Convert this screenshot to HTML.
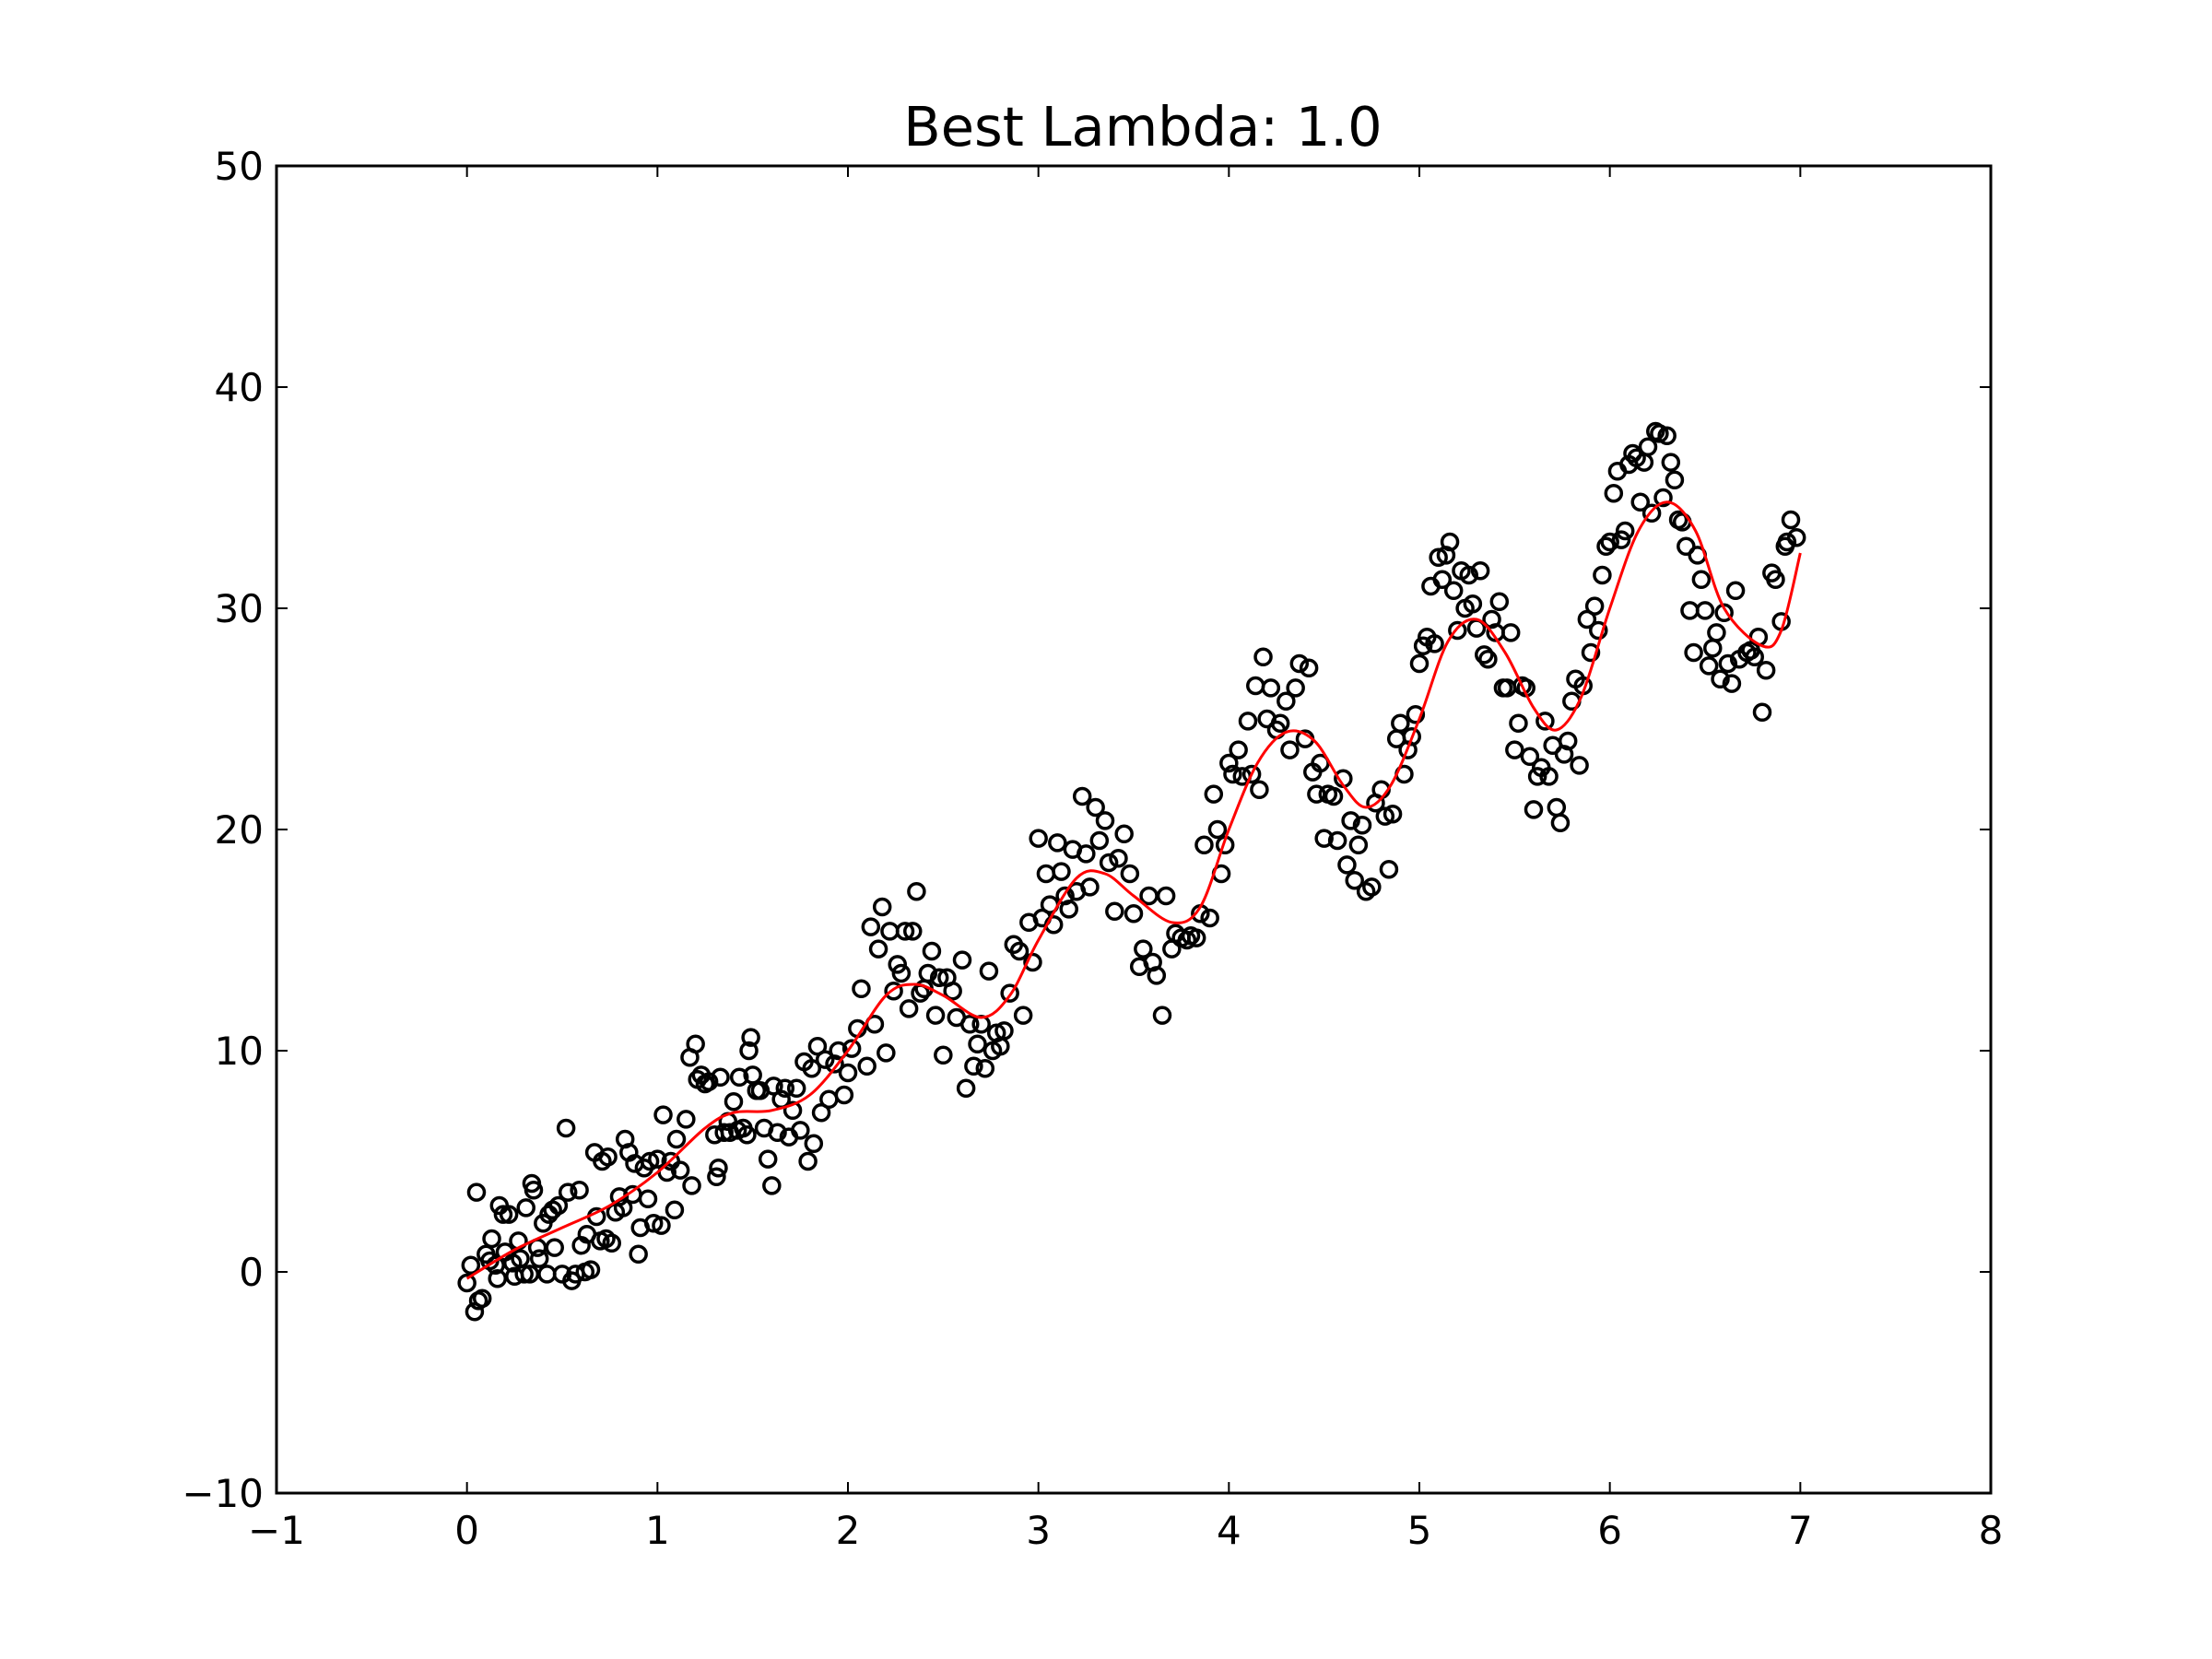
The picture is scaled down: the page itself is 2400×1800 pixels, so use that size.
<!DOCTYPE html>
<html><head><meta charset="utf-8"><style>
html,body{margin:0;padding:0;background:#fff;}
svg{display:block;font-family:"DejaVu Sans","Liberation Sans",sans-serif;}
</style></head><body>
<svg id="chart" width="2400" height="1800" viewBox="0 0 2400 1800" xmlns="http://www.w3.org/2000/svg">
<rect width="2400" height="1800" fill="#fff"/>
<text x="1240" y="158" font-size="59" text-anchor="middle">Best Lambda: 1.0</text>
<g id="marks"></g>
<g id="axes"></g>
</svg>
<script>
const xTicks=[-1,0,1,2,3,4,5,6,7,8];
const yTicks=[-10,0,10,20,30,40,50];
const tickLabelsX=["\u22121","0","1","2","3","4","5","6","7","8"];
const tickLabelsY=["\u221210","0","10","20","30","40","50"];
const pts=[[0,-0.5],[0.02,0.3],[0.04,-1.8],[0.05,3.6],[0.06,-1.3],[0.08,-1.2],[0.1,0.8],[0.12,0.5],[0.13,1.5],[0.15,0.3],[0.16,-0.3],[0.17,3],[0.19,2.6],[0.2,0.9],[0.22,2.6],[0.24,0.4],[0.25,-0.2],[0.27,1.4],[0.28,0.6],[0.3,-0.1],[0.31,2.9],[0.33,-0.1],[0.34,4],[0.35,3.7],[0.37,1.1],[0.38,0.6],[0.4,2.2],[0.42,-0.1],[0.43,2.6],[0.45,2.8],[0.46,1.1],[0.48,3],[0.5,-0.1],[0.52,6.5],[0.53,3.6],[0.55,-0.4],[0.57,-0.1],[0.59,3.7],[0.6,1.2],[0.62,0],[0.63,1.7],[0.65,0.1],[0.67,5.4],[0.68,2.5],[0.7,1.4],[0.71,5],[0.73,1.5],[0.74,5.2],[0.76,1.3],[0.78,2.7],[0.8,3.4],[0.82,2.9],[0.83,6],[0.85,5.4],[0.87,3.5],[0.88,4.9],[0.9,0.8],[0.91,2],[0.93,4.7],[0.95,3.3],[0.96,5],[0.98,2.2],[1.0,5.1],[1.02,2.1],[1.03,7.1],[1.05,4.5],[1.07,5],[1.09,2.8],[1.1,6],[1.12,4.6],[1.15,6.9],[1.17,9.7],[1.18,3.9],[1.2,10.3],[1.21,8.7],[1.23,8.9],[1.25,8.5],[1.27,8.6],[1.3,6.2],[1.31,4.3],[1.32,4.7],[1.33,8.8],[1.35,6.3],[1.37,6.8],[1.38,6.3],[1.4,7.7],[1.42,6.4],[1.43,8.8],[1.45,6.5],[1.47,6.2],[1.48,10],[1.49,10.6],[1.5,8.9],[1.52,8.2],[1.54,8.2],[1.56,6.5],[1.58,5.1],[1.6,3.9],[1.61,8.4],[1.63,6.3],[1.65,7.8],[1.67,8.3],[1.69,6.1],[1.71,7.3],[1.73,8.3],[1.75,6.4],[1.77,9.5],[1.79,5],[1.81,9.2],[1.82,5.8],[1.84,10.2],[1.86,7.2],[1.88,9.6],[1.9,7.8],[1.93,9.4],[1.95,10],[1.98,8],[2.0,9],[2.02,10.1],[2.05,11],[2.07,12.8],[2.1,9.3],[2.12,15.6],[2.14,11.2],[2.16,14.6],[2.18,16.5],[2.2,9.9],[2.22,15.4],[2.24,12.7],[2.26,13.9],[2.28,13.5],[2.3,15.4],[2.32,11.9],[2.34,15.4],[2.36,17.2],[2.38,12.6],[2.4,12.8],[2.42,13.5],[2.44,14.5],[2.46,11.6],[2.48,13.3],[2.5,9.8],[2.52,13.3],[2.55,12.7],[2.57,11.5],[2.6,14.1],[2.62,8.3],[2.64,11.2],[2.66,9.3],[2.68,10.3],[2.7,11.2],[2.72,9.2],[2.74,13.6],[2.76,10],[2.78,10.8],[2.8,10.2],[2.82,10.9],[2.85,12.6],[2.87,14.8],[2.9,14.5],[2.92,11.6],[2.95,15.8],[2.97,14],[3.0,19.6],[3.02,16],[3.04,18],[3.06,16.6],[3.08,15.7],[3.1,19.4],[3.12,18.1],[3.14,17],[3.16,16.4],[3.18,19.1],[3.2,17.2],[3.23,21.5],[3.25,18.9],[3.27,17.4],[3.3,21],[3.32,19.5],[3.35,20.4],[3.37,18.5],[3.4,16.3],[3.42,18.7],[3.45,19.8],[3.48,18],[3.5,16.2],[3.53,13.8],[3.55,14.6],[3.58,17],[3.6,14],[3.62,13.4],[3.65,11.6],[3.67,17],[3.7,14.6],[3.72,15.3],[3.75,15.1],[3.78,15],[3.8,15.2],[3.83,15.1],[3.85,16.2],[3.87,19.3],[3.9,16],[3.92,21.6],[3.94,20],[3.96,18],[3.98,19.3],[4.0,23],[4.02,22.5],[4.05,23.6],[4.07,22.4],[4.1,24.9],[4.12,22.5],[4.14,26.5],[4.16,21.8],[4.18,27.8],[4.2,25],[4.22,26.4],[4.25,24.5],[4.27,24.8],[4.3,25.8],[4.32,23.6],[4.35,26.4],[4.37,27.5],[4.4,24.1],[4.42,27.3],[4.44,22.6],[4.46,21.6],[4.48,23],[4.5,19.6],[4.52,21.6],[4.55,21.5],[4.57,19.5],[4.6,22.3],[4.62,18.4],[4.64,20.4],[4.66,17.7],[4.68,19.3],[4.7,20.2],[4.72,17.2],[4.75,17.4],[4.77,21.2],[4.8,21.8],[4.82,20.6],[4.84,18.2],[4.86,20.7],[4.88,24.1],[4.9,24.8],[4.92,22.5],[4.94,23.6],[4.96,24.2],[4.98,25.2],[5.0,27.5],[5.02,28.3],[5.04,28.7],[5.06,31],[5.08,28.4],[5.1,32.3],[5.12,31.3],[5.14,32.4],[5.16,33],[5.18,30.8],[5.2,29],[5.22,31.7],[5.24,30],[5.26,31.5],[5.28,30.2],[5.3,29.1],[5.32,31.7],[5.34,27.9],[5.36,27.7],[5.38,29.5],[5.4,28.9],[5.42,30.3],[5.44,26.4],[5.46,26.4],[5.48,28.9],[5.5,23.6],[5.52,24.8],[5.54,26.5],[5.56,26.4],[5.58,23.3],[5.6,20.9],[5.62,22.4],[5.64,22.8],[5.66,24.9],[5.68,22.4],[5.7,23.8],[5.72,21],[5.74,20.3],[5.76,23.4],[5.78,24],[5.8,25.8],[5.82,26.8],[5.84,22.9],[5.86,26.5],[5.88,29.5],[5.9,28],[5.92,30.1],[5.94,29],[5.96,31.5],[5.98,32.8],[6.0,33],[6.02,35.2],[6.04,36.2],[6.06,33.1],[6.08,33.5],[6.1,36.5],[6.12,37],[6.14,36.8],[6.16,34.8],[6.18,36.6],[6.2,37.3],[6.22,34.3],[6.24,38],[6.26,37.9],[6.28,35],[6.3,37.8],[6.32,36.6],[6.34,35.8],[6.36,34],[6.38,33.9],[6.4,32.8],[6.42,29.9],[6.44,28],[6.46,32.4],[6.48,31.3],[6.5,29.9],[6.52,27.4],[6.54,28.2],[6.56,28.9],[6.58,26.8],[6.6,29.8],[6.62,27.5],[6.64,26.6],[6.66,30.8],[6.68,27.7],[6.8,25.3],[6.72,28],[6.74,28.1],[6.76,27.8],[6.78,28.7],[6.85,31.6],[6.82,27.2],[6.87,31.3],[6.9,29.4],[6.93,33],[6.95,34],[6.92,32.8],[6.98,33.2]];
const fitX=[0,0.25,0.5,0.75,1.0,1.25,1.4,1.6,1.8,2.0,2.2,2.35,2.5,2.7,2.85,3.0,3.2,3.35,3.5,3.7,3.85,4.0,4.15,4.3,4.45,4.6,4.72,4.85,5.0,5.15,5.3,5.45,5.6,5.72,5.85,6.0,6.15,6.3,6.45,6.6,6.8,6.9,7.0];
const fitY=[-0.3,1,2,3,4.5,6.5,7.2,7.3,8,10,12.5,13,12.5,11.5,12.5,15,17.8,18,17,15.8,16.5,20,23,24.4,24,22,21,22,25,28.5,29.5,28,25.5,24.5,26,30,33.5,34.8,33.5,30,28.3,29,32.5];

const L=300,R=2160,T=180,B=1620;
const sx=v=>L+(v+1)/9*(R-L);
const sy=v=>B-(v+10)/60*(B-T);
const NS="http://www.w3.org/2000/svg";
const marks=document.getElementById('marks');
const axes=document.getElementById('axes');
function mk(tag,attrs,parent){const e=document.createElementNS(NS,tag);for(const k in attrs)e.setAttribute(k,attrs[k]);parent.appendChild(e);return e;}

pts.forEach(p=>{
  const c=mk('circle',{cx:sx(p[0]),cy:sy(p[1]),r:8.5,fill:'none',stroke:'#000','stroke-width':3.5},marks);
  
  
});
const P=fitX.map((x,i)=>[sx(x),sy(fitY[i])]);
let d='M'+P[0][0]+','+P[0][1];
for(let i=0;i<P.length-1;i++){
  const p0=P[Math.max(0,i-1)],p1=P[i],p2=P[i+1],p3=P[Math.min(P.length-1,i+2)];
  const c1=[p1[0]+(p2[0]-p0[0])/6,p1[1]+(p2[1]-p0[1])/6];
  const c2=[p2[0]-(p3[0]-p1[0])/6,p2[1]-(p3[1]-p1[1])/6];
  d+=` C${c1[0]},${c1[1]} ${c2[0]},${c2[1]} ${p2[0]},${p2[1]}`;
}
const fl=mk('path',{d:d,fill:'none',stroke:'#ff0000','stroke-width':3},marks);



const fr=mk('rect',{x:L,y:T,width:R-L,height:B-T,fill:'none',stroke:'#000','stroke-width':3},axes);


xTicks.forEach((v,i)=>{
  const x=sx(v);
  mk('line',{x1:x,y1:B,x2:x,y2:B-12,stroke:'#000','stroke-width':2},axes);
  mk('line',{x1:x,y1:T,x2:x,y2:T+12,stroke:'#000','stroke-width':2},axes);
  const t=mk('text',{x:x,y:B+55,'font-size':42,'text-anchor':'middle'},axes);
  t.textContent=tickLabelsX[i];
  
  
});
yTicks.forEach((v,i)=>{
  const y=sy(v);
  mk('line',{x1:L,y1:y,x2:L+12,y2:y,stroke:'#000','stroke-width':2},axes);
  mk('line',{x1:R,y1:y,x2:R-12,y2:y,stroke:'#000','stroke-width':2},axes);
  const t=mk('text',{x:L-14,y:y+15,'font-size':42,'text-anchor':'end'},axes);
  t.textContent=tickLabelsY[i];
  
  
});
</script>
</body></html>
